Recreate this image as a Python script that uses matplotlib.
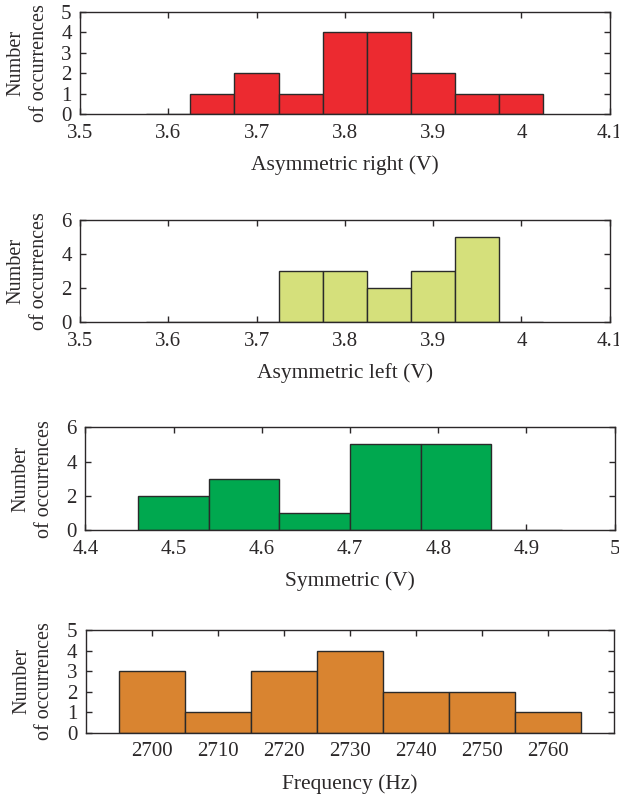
import numpy as np
import matplotlib.pyplot as plt

plt.rcParams['font.family'] = ['Liberation Serif', 'DejaVu Serif']

# histogram data (bin centres and counts)
ar_centres = [3.60, 3.65, 3.70, 3.75, 3.80, 3.85, 3.90, 3.95, 4.00]
ar_counts = [0, 1, 2, 1, 4, 4, 2, 1, 1]

al_centres = [3.60, 3.65, 3.70, 3.75, 3.80, 3.85, 3.90, 3.95, 4.00]
al_counts = [0, 0, 0, 3, 3, 2, 3, 5, 0]

sym_centres = [4.50, 4.58, 4.66, 4.74, 4.82, 4.90]
sym_counts = [2, 3, 1, 5, 5, 0]

fr_centres = [2700, 2710, 2720, 2730, 2740, 2750, 2760]
fr_counts = [3, 1, 3, 4, 2, 2, 1]

v_ticks = [3.5, 3.6, 3.7, 3.8, 3.9, 4.0, 4.1]
v_labels = ['3.5', '3.6', '3.7', '3.8', '3.9', '4', '4.1']
s_ticks = [4.4, 4.5, 4.6, 4.7, 4.8, 4.9, 5.0]
s_labels = ['4.4', '4.5', '4.6', '4.7', '4.8', '4.9', '5']
f_ticks = [2700, 2710, 2720, 2730, 2740, 2750, 2760]

ink = '#2b2829'
W, H = 619, 797
fig = plt.figure(figsize=(W / 100, H / 100), dpi=100)

# (left, top, right, bottom) in pixels
boxes = [(80, 12, 609.7, 114.3),
         (80, 219.7, 609.7, 322.3),
         (85.3, 427.3, 614.7, 530.3),
         (85.7, 630, 614.3, 732.7)]

panels = [
    (ar_centres, ar_counts, 0.05, '#ec2a30', (3.5, 4.1), (0, 5), v_ticks, v_labels,
     [0, 1, 2, 3, 4, 5], 'Asymmetric right (V)'),
    (al_centres, al_counts, 0.05, '#d5e07b', (3.5, 4.1), (0, 6), v_ticks, v_labels,
     [0, 2, 4, 6], 'Asymmetric left (V)'),
    (sym_centres, sym_counts, 0.08, '#00a84f', (4.4, 5.0), (0, 6), s_ticks, s_labels,
     [0, 2, 4, 6], 'Symmetric (V)'),
    (fr_centres, fr_counts, 10, '#d98430', (2690, 2770), (0, 5), f_ticks,
     [str(t) for t in f_ticks], [0, 1, 2, 3, 4, 5], 'Frequency (Hz)'),
]

for (l, t, r, b), (cx, cnt, w, col, xl, yl, xt, xtl, yt, xlab) in zip(boxes, panels):
    ax = fig.add_axes([l / W, 1 - b / H, (r - l) / W, (b - t) / H])
    ax.bar(cx, cnt, width=w, color=col, edgecolor='#2a2a2a', linewidth=1.0, zorder=2)
    ax.set_xlim(*xl)
    ax.set_ylim(*yl)
    ax.set_xticks(xt)
    ax.set_xticklabels(xtl)
    ax.set_yticks(yt)
    ax.tick_params(direction='in', top=True, right=True, length=4, width=1,
                   colors=ink, labelsize=15)
    ax.tick_params(axis='x', pad=7)
    ax.tick_params(axis='y', pad=6)
    for s in ax.spines.values():
        s.set_color(ink)
        s.set_linewidth(1.0)
    ax.set_xlabel(xlab, fontsize=15.5, color=ink, labelpad=9)
    ax.text(-52.5 / (r - l), 0.5, 'Number\nof occurrences', transform=ax.transAxes,
            rotation=90, ha='center', va='center', multialignment='center',
            fontsize=14.5, color=ink, linespacing=1.3)

fig.savefig('out.png', dpi=100)
